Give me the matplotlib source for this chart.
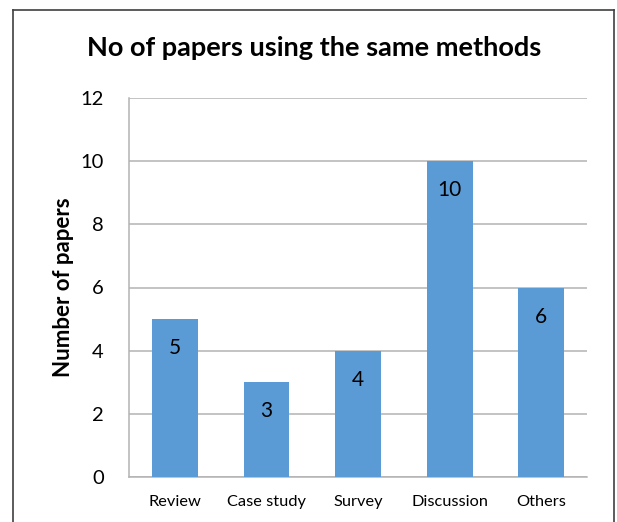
import matplotlib.pyplot as plt
from matplotlib.lines import Line2D

# data
methods = ['Review', 'Case study', 'Survey', 'Discussion', 'Others']
papers = [5, 3, 4, 10, 6]
yticks = [0, 2, 4, 6, 8, 10, 12]

plt.rcParams['font.family'] = ['Lato', 'DejaVu Sans']

fig = plt.figure(figsize=(6.17, 5.22), dpi=100)
ax = fig.add_axes([129 / 617, 1 - 477 / 522, 458 / 617, 379 / 522])

bars = ax.bar(methods, papers, width=0.5, color='#5B9BD5', zorder=3)
for b, v in zip(bars, papers):
    ax.annotate(str(v), (b.get_x() + b.get_width() / 2, v), xytext=(0, -21),
                textcoords='offset points', ha='center', va='center', fontsize=15)

ax.set_ylim(0, 12)
ax.set_xlim(-0.5, len(methods) - 0.5)
ax.set_yticks(yticks)
ax.grid(axis='y', color='#B3B3B3', linewidth=1.1, zorder=0)
ax.tick_params(axis='y', length=0, pad=18, labelsize=14.5)
ax.tick_params(axis='x', length=0, pad=13, labelsize=11.8)
for s in ['top', 'right']:
    ax.spines[s].set_visible(False)
for s in ['left', 'bottom']:
    ax.spines[s].set_color('#B3B3B3')
    ax.spines[s].set_linewidth(1.1)

ax.set_ylabel('Number of papers', fontsize=16, fontweight='bold')
ax.yaxis.set_label_coords((74 - 129) / 458, 0.5)
fig.text(314 / 617, 1 - 48 / 522, 'No of papers using the same methods',
         ha='center', va='center', fontsize=19.5, fontweight='bold')

# outer frame (open at bottom)
frame = dict(color='#404040', linewidth=1.2, transform=fig.transFigure)
fig.add_artist(Line2D([12.5 / 617, 12.5 / 617], [0, 1 - 10 / 522], **frame))
fig.add_artist(Line2D([12.5 / 617, 613.5 / 617], [1 - 10 / 522, 1 - 10 / 522], **frame))
fig.add_artist(Line2D([613.5 / 617, 613.5 / 617], [0, 1 - 10 / 522], **frame))

fig.savefig('out.png', dpi=100)
